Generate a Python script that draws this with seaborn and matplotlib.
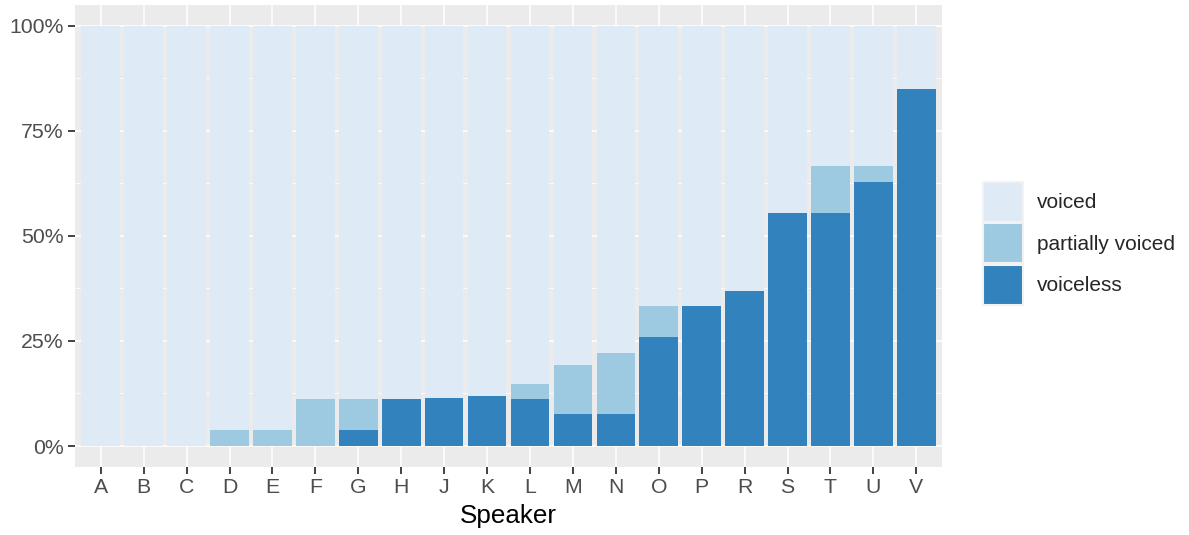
import numpy as np
import pandas as pd
import matplotlib
matplotlib.use("Agg")
import matplotlib.pyplot as plt
import seaborn as sns
from matplotlib.patches import Patch
from matplotlib.ticker import PercentFormatter, FixedLocator

# дані (частки)
speakers = list("ABCDEFGHJKLMNOPRSTUV")
voiceless = [0, 0, 0, 0, 0, 0, 0.037, 0.111, 0.115, 0.120, 0.111, 0.077, 0.075,
             0.259, 0.333, 0.370, 0.555, 0.555, 0.629, 0.851]
partially_voiced = [0, 0, 0, 0.037, 0.037, 0.111, 0.074, 0, 0, 0, 0.037, 0.115, 0.146,
                    0.074, 0, 0, 0, 0.111, 0.037, 0]
categories = ["voiced", "partially voiced", "voiceless"]
colors = {"voiced": "#DEEBF7", "partially voiced": "#9ECAE1", "voiceless": "#3182BD"}

df = pd.DataFrame({"Speaker": speakers, "voiceless": voiceless, "partial": partially_voiced})
df["cum_partial"] = df["voiceless"] + df["partial"]
df["total"] = 1.0

sns.set_theme(style="darkgrid")
plt.rcParams["font.family"] = ["Liberation Sans", "DejaVu Sans"]

fig = plt.figure(figsize=(11.89, 5.35), dpi=100)
ax = fig.add_axes([0.0631, 0.1271, 0.7292, 0.8636])
ax.set_facecolor("#EBEBEB")

# шари: спочатку 100%, потім накопичене, потім voiceless
sns.barplot(data=df, x="Speaker", y="total", color=colors["voiced"], saturation=1,
            width=0.9, linewidth=0, ax=ax, zorder=3)
sns.barplot(data=df, x="Speaker", y="cum_partial", color=colors["partially voiced"], saturation=1,
            width=0.9, linewidth=0, ax=ax, zorder=3)
sns.barplot(data=df, x="Speaker", y="voiceless", color=colors["voiceless"], saturation=1,
            width=0.9, linewidth=0, ax=ax, zorder=3)

ax.set_xlim(-0.6, len(speakers) - 0.4)
ax.set_ylim(-0.05, 1.05)
ax.yaxis.set_major_locator(FixedLocator([0, 0.25, 0.5, 0.75, 1.0]))
ax.yaxis.set_minor_locator(FixedLocator([0.125, 0.375, 0.625, 0.875]))
ax.yaxis.set_major_formatter(PercentFormatter(1.0, decimals=0))

ax.grid(which="major", color="white", linewidth=1.1, zorder=0)
ax.grid(which="minor", axis="y", color="white", linewidth=0.55, zorder=0)
ax.set_axisbelow(True)
for s in ax.spines.values():
    s.set_visible(False)

ax.tick_params(axis="both", which="major", length=5, width=1.3, color="#333333",
               labelcolor="#4D4D4D", labelsize=15.3, pad=3, left=True, bottom=True)
ax.tick_params(axis="both", which="minor", length=0)
ax.set_ylabel("")
ax.set_xlabel("Speaker", fontsize=18.7, color="black", labelpad=5)

handles = [Patch(facecolor=colors[c], edgecolor="#F2F2F2", linewidth=1.5) for c in categories]
fig.legend(handles, categories, loc="center left", bbox_to_anchor=(0.8268, 0.545),
           frameon=False, fontsize=15, handlelength=1.92, handleheight=2.58,
           labelspacing=0.08, handletextpad=0.67, borderpad=0, borderaxespad=0)

fig.savefig("out.png", dpi=100)
